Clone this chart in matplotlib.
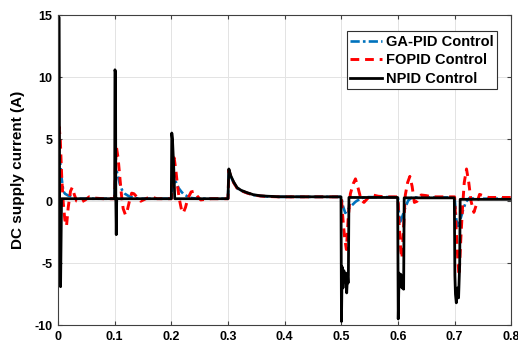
import matplotlib
matplotlib.use('Agg')
import matplotlib.pyplot as plt

plt.rcParams['font.family'] = ['Liberation Sans', 'DejaVu Sans']
plt.rcParams['font.weight'] = 'bold'
plt.rcParams['axes.unicode_minus'] = False

# GA-PID control (time in s, current in A)
t_ga = [0.0, 0.002, 0.0035, 0.0065, 0.0094, 0.0124, 0.018, 0.024, 0.030, 0.04,
        0.1, 0.102, 0.105, 0.109, 0.113, 0.118, 0.125, 0.135, 0.145,
        0.2, 0.202, 0.205, 0.2075, 0.213, 0.218, 0.222, 0.228, 0.234, 0.245,
        0.3, 0.3015, 0.305, 0.31, 0.316, 0.323, 0.333, 0.345, 0.357, 0.37, 0.39,
        0.5, 0.503, 0.507, 0.515, 0.525, 0.535, 0.545,
        0.6, 0.602, 0.604, 0.608, 0.613, 0.618, 0.624, 0.63,
        0.7, 0.703, 0.706, 0.71, 0.715, 0.72, 0.726, 0.735, 0.8]
i_ga = [0.0, 3.0, 3.3, 1.8, 0.8, 0.6, 0.45, 0.4, 0.2, 0.2,
        0.2, 2.6, 2.2, 1.4, 0.9, 0.6, 0.4, 0.25, 0.2,
        0.2, 2.4, 2.2, 1.6, 1.05, 0.75, 0.55, 0.4, 0.27, 0.2,
        0.2, 2.5, 2.0, 1.5, 1.05, 0.85, 0.67, 0.5, 0.42, 0.38, 0.35,
        0.35, -0.4, -0.95, -0.5, -0.05, 0.25, 0.33,
        0.33, -1.2, -1.65, -1.2, -0.5, 0.05, 0.28, 0.3,
        0.3, -1.5, -2.1, -1.5, -0.7, -0.05, 0.25, 0.2, 0.2]

# FOPID control
t_fo = [0.0, 0.002, 0.004, 0.0065, 0.009, 0.012, 0.015, 0.018, 0.022, 0.025,
        0.029, 0.033, 0.04, 0.048, 0.055, 0.065, 0.08,
        0.1, 0.1015, 0.103, 0.106, 0.109, 0.112, 0.115, 0.119, 0.122, 0.126,
        0.13, 0.134, 0.14, 0.146, 0.155, 0.163, 0.175,
        0.2, 0.202, 0.205, 0.208, 0.211, 0.214, 0.218, 0.221, 0.225, 0.229,
        0.235, 0.24, 0.246, 0.252, 0.26, 0.27,
        0.3, 0.3015, 0.305, 0.31, 0.316, 0.323, 0.333, 0.345, 0.357, 0.37, 0.39,
        0.5, 0.503, 0.506, 0.509, 0.512, 0.516, 0.521, 0.525, 0.53, 0.535,
        0.54, 0.548, 0.556, 0.565, 0.58,
        0.6, 0.602, 0.605, 0.607, 0.61, 0.613, 0.617, 0.621, 0.625, 0.629,
        0.634, 0.641, 0.65, 0.66,
        0.7, 0.703, 0.706, 0.708, 0.711, 0.714, 0.717, 0.721, 0.725, 0.729,
        0.734, 0.739, 0.744, 0.75, 0.76, 0.8]
i_fo = [0.0, 6.0, 5.0, 2.0, 0.0, -1.5, -2.0, -0.5, 0.8, 1.1,
        0.5, 0.0, -0.1, 0.1, 0.35, 0.25, 0.2,
        0.2, 3.0, 4.4, 3.5, 2.0, 0.5, -0.6, -1.1, -0.8, 0.0,
        0.65, 0.6, 0.3, 0.0, 0.2, 0.35, 0.2,
        0.2, 2.0, 3.5, 2.5, 1.2, 0.2, -0.7, -0.95, -0.5, 0.2,
        0.75, 0.8, 0.4, 0.1, 0.15, 0.2,
        0.2, 2.5, 2.0, 1.5, 1.05, 0.85, 0.67, 0.5, 0.42, 0.38, 0.35,
        0.35, -1.5, -3.0, -3.9, -1.5, 0.6, 1.4, 1.8, 1.0, 0.1,
        -0.1, 0.3, 0.5, 0.4, 0.35,
        0.35, -1.8, -4.0, -4.6, -2.0, 0.5, 1.5, 2.0, 1.2, -0.1,
        0.0, 0.5, 0.45, 0.35,
        0.35, -2.5, -5.0, -6.0, -3.0, -0.5, 1.5, 2.6, 1.5, 0.0,
        -0.9, -0.2, 0.55, 0.45, 0.3, 0.3]

# NPID control
t_np = [0.0, 0.0005, 0.002, 0.0028, 0.0045, 0.0062, 0.01,
        0.1, 0.1005, 0.1015, 0.102, 0.1028, 0.1036,
        0.2, 0.2008, 0.202, 0.204, 0.2055, 0.206,
        0.3, 0.3015, 0.305, 0.31, 0.316, 0.323, 0.333, 0.345, 0.357, 0.37, 0.39,
        0.4995, 0.5003, 0.5015, 0.503, 0.5045, 0.506, 0.508, 0.5095, 0.511,
        0.512, 0.5125, 0.5135,
        0.5995, 0.6005, 0.602, 0.604, 0.605, 0.607, 0.609, 0.610, 0.611,
        0.6995, 0.7005, 0.7015, 0.703, 0.705, 0.707, 0.709, 0.7098, 0.8]
i_np = [0.0, 15.0, 14.8, 0.3, -6.9, 0.2, 0.2,
        0.2, 10.6, 10.4, 0.3, -2.7, 0.2,
        0.2, 5.5, 5.0, 3.0, 1.0, 0.2,
        0.2, 2.6, 2.05, 1.55, 1.1, 0.88, 0.7, 0.52, 0.44, 0.4, 0.36,
        0.35, -9.7, -5.3, -7.0, -5.6, -6.5, -5.8, -7.4, -6.0,
        -6.6, -6.0, 0.3,
        0.3, -9.5, -5.8, -6.8, -5.9, -7.0, -6.2, -7.1, 0.27,
        0.27, -6.0, -7.5, -8.2, -7.0, -7.8, -5.0, 0.15, 0.15]

fig = plt.figure(figsize=(5.18, 3.47), dpi=100)
ax = fig.add_axes([0.112, 0.063, 0.875, 0.893])

ax.plot(t_ga, i_ga, color='#0072BD', lw=1.9, linestyle=(0, (3.5, 1.2, 1, 1.2)),
        label='GA-PID Control')
ax.plot(t_fo, i_fo, color='#ff0000', lw=2.1, linestyle=(0, (3, 2)),
        label='FOPID Control')
ax.plot(t_np, i_np, color='black', lw=2.0, label='NPID Control')

ax.set_xlim(0, 0.8)
ax.set_ylim(-10, 15)
ax.set_xticks([0, 0.1, 0.2, 0.3, 0.4, 0.5, 0.6, 0.7, 0.8])
ax.set_xticklabels(['0', '0.1', '0.2', '0.3', '0.4', '0.5', '0.6', '0.7', '0.8'])
ax.set_yticks([-10, -5, 0, 5, 10, 15])
ax.grid(True, color='#e3e3e3', linewidth=0.7)
ax.set_axisbelow(True)
ax.tick_params(direction='in', top=True, right=True, labelsize=9, length=3,
               color='#404040', pad=4)
for s in ax.spines.values():
    s.set_color('#404040')
    s.set_linewidth(0.8)

ax.set_ylabel('DC supply current (A)', fontsize=11, fontweight='bold')
ax.yaxis.set_label_coords(-0.073, 0.5)

leg = ax.legend(loc='upper right', bbox_to_anchor=(0.969, 0.948), borderaxespad=0,
                fancybox=False, framealpha=1, edgecolor='#303030', fontsize=10.5,
                handlelength=2.2, handletextpad=0.25, borderpad=0.25,
                labelspacing=0.3)
leg.get_frame().set_linewidth(0.8)

fig.savefig('out.png', dpi=100)
